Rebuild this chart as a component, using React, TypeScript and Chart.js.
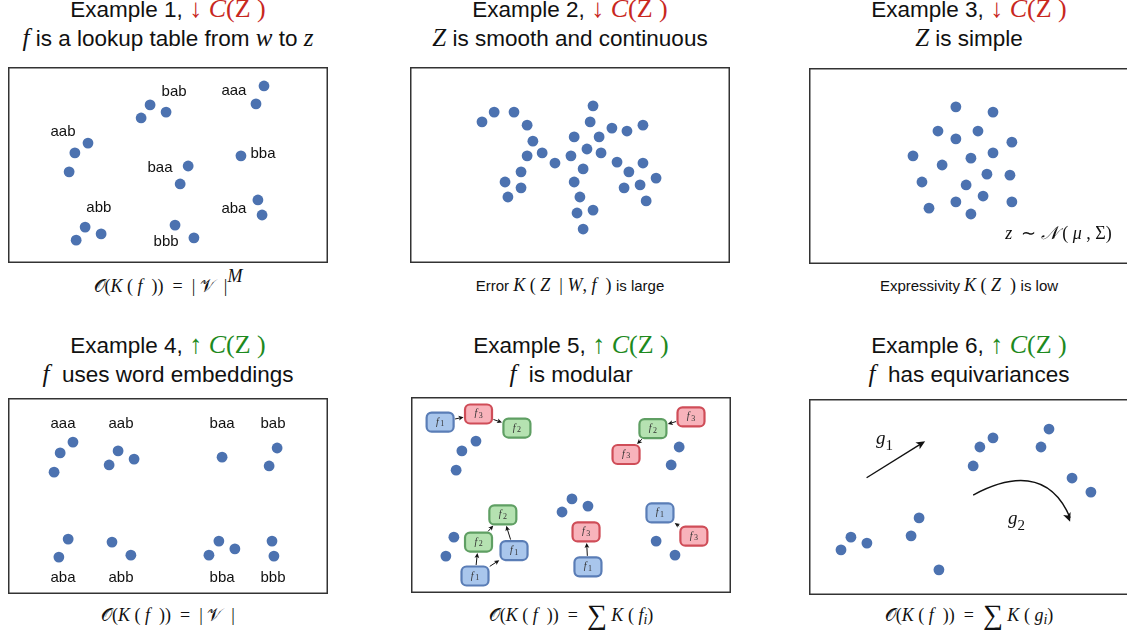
import React, { useEffect, useRef } from "react";
import { Chart, registerables } from "chart.js";
Chart.register(...registerables);

const SANS = '"Liberation Sans", Arial, Helvetica, sans-serif';
const SERIF = '"Liberation Serif", "Times New Roman", Times, serif';
const DOT = "#4C72B0";
const DOWN = "#C8281E";
const UP = "#1E8A1E";

// ---------- Panel 1: lookup table ----------
const p1X = [8.0, 7.75, 4.44, 4.94, 4.16, 2.5, 2.09, 1.91, 5.63, 5.38, 7.28, 7.81, 7.94, 2.41, 2.91, 2.13, 5.22, 5.81];
const p1Y = [5.42, 4.87, 4.84, 4.62, 4.44, 3.67, 3.37, 2.79, 2.97, 2.42, 3.28, 1.93, 1.47, 1.1, 0.89, 0.7, 1.16, 0.77];
const p1Words = ["bab", "aaa", "aab", "baa", "bba", "abb", "aba", "bbb"];
const p1WordX = [5.19, 7.06, 1.72, 4.75, 7.97, 2.84, 7.06, 4.94];
const p1WordY = [5.23, 5.26, 4.01, 2.91, 3.34, 1.68, 1.65, 0.64];

// ---------- Panel 2: smooth and continuous ----------
const p2X = [2.25, 2.63, 3.25, 3.66, 3.84, 3.66, 4.13, 4.53, 3.47, 2.97, 3.47, 3.06, 5.72, 5.63, 6.31, 6.78, 7.28, 5.13, 5.91, 5.53, 5.97, 5.03, 5.41, 6.47, 7.28, 6.84, 7.69, 5.13, 6.69, 7.19, 7.38, 5.31, 5.22, 5.72, 5.41];
const p2Y = [4.32, 4.62, 4.62, 4.22, 3.73, 3.28, 3.37, 3.06, 2.79, 2.48, 2.3, 2.02, 4.81, 4.32, 4.13, 4.04, 4.22, 3.86, 3.86, 3.49, 3.37, 3.28, 2.88, 3.09, 3.06, 2.79, 2.6, 2.48, 2.3, 2.39, 1.9, 2.02, 1.53, 1.62, 1.04];

// ---------- Panel 3: simple (gaussian) ----------
const p3X = [4.59, 5.75, 4.03, 4.59, 5.28, 6.34, 3.25, 4.16, 5.06, 5.75, 5.56, 6.28, 3.53, 4.91, 5.44, 4.59, 6.34, 3.75, 5.06];
const p3Y = [4.81, 4.65, 4.07, 3.83, 4.07, 3.73, 3.31, 3.03, 3.24, 3.4, 2.75, 2.72, 2.51, 2.42, 2.08, 1.9, 1.9, 1.71, 1.53];
const p3NoteX = 6.13;
const p3NoteY = 0.77;

// ---------- Panel 4: word embeddings ----------
const p4X = [2.03, 1.63, 1.44, 3.44, 3.94, 3.16, 6.69, 8.41, 8.16, 1.88, 1.59, 3.25, 3.84, 6.59, 7.09, 6.28, 8.25, 8.31];
const p4Y = [4.65, 4.32, 3.73, 4.38, 4.13, 3.95, 4.19, 4.47, 3.92, 1.68, 1.13, 1.59, 1.19, 1.62, 1.38, 1.19, 1.62, 1.16];
const p4Words = ["aaa", "aab", "baa", "bab", "aba", "abb", "bba", "bbb"];
const p4WordX = [1.72, 3.53, 6.69, 8.28, 1.72, 3.53, 6.69, 8.28];
const p4WordY = [5.2, 5.2, 5.2, 5.2, 0.49, 0.49, 0.49, 0.49];

// ---------- Panel 5: modular ----------
const p5X = [2.03, 1.59, 1.41, 8.38, 8.13, 5.03, 5.53, 4.72, 1.34, 1.09, 7.66, 8.25];
const p5Y = [4.65, 4.35, 3.76, 4.47, 3.92, 2.88, 2.66, 2.48, 1.71, 1.13, 1.59, 1.16];
const p5ModX = [0.91, 2.11, 3.31, 8.75, 7.56, 6.72, 2.87, 2.11, 3.22, 2.0, 5.47, 5.53, 7.78, 8.84];
const p5ModY = [5.23, 5.48, 5.05, 5.39, 5.03, 4.24, 2.39, 1.56, 1.3, 0.52, 1.87, 0.8, 2.45, 1.74];
const p5ModKind = [1, 3, 2, 3, 2, 3, 2, 2, 1, 1, 3, 1, 1, 3];
const p5EdgeFrom = [0, 1, 3, 4, 9, 9, 7, 8, 11, 13];
const p5EdgeTo = [1, 2, 4, 5, 7, 8, 6, 6, 10, 12];

// ---------- Panel 6: equivariances ----------
const p6X = [7.5, 5.75, 5.34, 7.25, 5.13, 8.22, 8.81, 3.44, 3.19, 1.31, 1.81, 1.0, 4.06];
const p6Y = [5.08, 4.81, 4.53, 4.53, 3.95, 3.58, 3.15, 2.36, 1.81, 1.77, 1.59, 1.38, 0.77];
const g1From = [1.8, 3.59];
const g1To = [3.63, 4.71];
const g2Path = [[5.13, 3.06], [6.28, 3.67], [7.53, 3.83], [8.16, 2.24]];
const g1Label = [2.09, 4.62];
const g2Label = [6.22, 2.17];

const X_MAX = 10;
const Y_MAX = 6;
const BOX_W = 320;
const BOX_H = 196;

type Ctx = CanvasRenderingContext2D;
type P = (v: number) => number;

function arrowHead(ctx: Ctx, fx: number, fy: number, tx: number, ty: number, len: number, half: number) {
  const a = Math.atan2(ty - fy, tx - fx);
  const c = Math.cos(a), s = Math.sin(a);
  const bx = tx - len * c, by = ty - len * s;
  const nx = -s * half, ny = c * half;
  ctx.beginPath();
  ctx.moveTo(tx, ty);
  ctx.lineTo(bx + nx, by + ny);
  ctx.lineTo(tx - len * 0.75 * c, ty - len * 0.75 * s);
  ctx.lineTo(bx - nx, by - ny);
  ctx.closePath();
  ctx.fill();
}

function drawWords(words: string[], wx: number[], wy: number[]) {
  return (ctx: Ctx, px: P, py: P) => {
    ctx.font = `15px ${SANS}`;
    ctx.fillStyle = "#111";
    ctx.textAlign = "center";
    ctx.textBaseline = "middle";
    words.forEach((w, i) => ctx.fillText(w, px(wx[i]), py(wy[i])));
  };
}

function drawPieces(ctx: Ctx, x: number, y: number, pieces: [string, string, number][]) {
  let cx = x;
  ctx.textAlign = "left";
  ctx.textBaseline = "alphabetic";
  for (const [text, font, dy] of pieces) {
    ctx.font = font;
    ctx.fillText(text, cx, y + dy);
    cx += ctx.measureText(text).width;
  }
}

const drawP3 = (ctx: Ctx, px: P, py: P) => {
  ctx.fillStyle = "#111";
  const it = `italic 18px ${SERIF}`;
  const rm = `18px ${SERIF}`;
  drawPieces(ctx, px(p3NoteX), py(p3NoteY), [
    ["z", it, 0],
    ["  \u223C ", rm, 0],
    ["\uD835\uDCA9", it, 0],
    [" ( ", rm, 0],
    ["\u03BC", it, 0],
    [" , \u03A3)", rm, 0],
  ]);
};

const MOD_FILL: Record<number, string> = { 1: "#A9C6EC", 2: "#B5E2B1", 3: "#F8B3BB" };
const MOD_STROKE: Record<number, string> = { 1: "#5A7DB6", 2: "#5F9F63", 3: "#CF4D58" };
const MOD_HW = 13.5;
const MOD_HH = 9.5;

function clipToBox(cx: number, cy: number, dx: number, dy: number) {
  const tx = Math.abs(dx) > 1e-6 ? MOD_HW / Math.abs(dx) : Infinity;
  const ty = Math.abs(dy) > 1e-6 ? MOD_HH / Math.abs(dy) : Infinity;
  const t = Math.min(tx, ty);
  return [cx + dx * t, cy + dy * t];
}

const drawP5 = (ctx: Ctx, px: P, py: P) => {
  ctx.strokeStyle = "#111";
  ctx.fillStyle = "#111";
  ctx.lineWidth = 1;
  p5EdgeFrom.forEach((f, i) => {
    const t = p5EdgeTo[i];
    const ax = px(p5ModX[f]), ay = py(p5ModY[f]);
    const bx = px(p5ModX[t]), by = py(p5ModY[t]);
    const d = Math.hypot(bx - ax, by - ay);
    const ux = (bx - ax) / d, uy = (by - ay) / d;
    const [sx, sy] = clipToBox(ax, ay, ux, uy);
    const [ex, ey] = clipToBox(bx, by, -ux, -uy);
    const s0x = sx + ux * 1.5, s0y = sy + uy * 1.5;
    const e0x = ex - ux * 1.5, e0y = ey - uy * 1.5;
    ctx.beginPath();
    ctx.moveTo(s0x, s0y);
    ctx.lineTo(e0x - ux * 3, e0y - uy * 3);
    ctx.stroke();
    arrowHead(ctx, s0x, s0y, e0x, e0y, 5, 2.4);
  });
  p5ModX.forEach((mx, i) => {
    const k = p5ModKind[i];
    const cx = px(mx), cy = py(p5ModY[i]);
    ctx.beginPath();
    ctx.roundRect(cx - MOD_HW, cy - MOD_HH, MOD_HW * 2, MOD_HH * 2, 5);
    ctx.fillStyle = MOD_FILL[k];
    ctx.fill();
    ctx.lineWidth = 2.2;
    ctx.strokeStyle = MOD_STROKE[k];
    ctx.stroke();
    ctx.fillStyle = "#333";
    ctx.font = `italic 10px ${SERIF}`;
    const wf = ctx.measureText("f").width;
    ctx.font = `8px ${SERIF}`;
    const ws = ctx.measureText(String(k)).width;
    const start = cx - (wf + ws + 1.5) / 2;
    ctx.textAlign = "left";
    ctx.textBaseline = "alphabetic";
    ctx.font = `italic 10px ${SERIF}`;
    ctx.fillText("f", start, cy + 2.5);
    ctx.font = `8px ${SERIF}`;
    ctx.fillText(String(k), start + wf + 1.5, cy + 4);
  });
};

const drawP6 = (ctx: Ctx, px: P, py: P) => {
  ctx.strokeStyle = "#111";
  ctx.fillStyle = "#111";
  ctx.lineWidth = 1.4;
  const ax = px(g1From[0]), ay = py(g1From[1]);
  const bx = px(g1To[0]), by = py(g1To[1]);
  const d = Math.hypot(bx - ax, by - ay);
  ctx.beginPath();
  ctx.moveTo(ax, ay);
  ctx.lineTo(bx - ((bx - ax) / d) * 5, by - ((by - ay) / d) * 5);
  ctx.stroke();
  arrowHead(ctx, ax, ay, bx, by, 9, 4);
  const pts = g2Path.map(([x, y]) => [px(x), py(y)]);
  ctx.beginPath();
  ctx.moveTo(pts[0][0], pts[0][1]);
  ctx.bezierCurveTo(pts[1][0], pts[1][1], pts[2][0], pts[2][1], pts[3][0], pts[3][1] - 4);
  ctx.stroke();
  arrowHead(ctx, pts[2][0], pts[2][1], pts[3][0], pts[3][1], 9, 4);
  const it = `italic 19px ${SERIF}`;
  const rm = `15px ${SERIF}`;
  drawPieces(ctx, px(g1Label[0]), py(g1Label[1]), [["g", it, 0], ["1", rm, 6]]);
  drawPieces(ctx, px(g2Label[0]), py(g2Label[1]), [["g", it, 0], ["2", rm, 6]]);
};

type Draw = ((ctx: Ctx, px: P, py: P) => void) | null;

function buildChart(canvas: HTMLCanvasElement, xs: number[], ys: number[], draw: Draw) {
  const data = xs.map((x, i) => ({ x, y: ys[i] }));
  return new Chart(canvas, {
    type: "scatter",
    data: {
      datasets: [
        {
          data,
          pointRadius: 5.4,
          pointHoverRadius: 5.4,
          backgroundColor: DOT,
          borderColor: DOT,
          pointBorderWidth: 0,
          borderWidth: 0,
        },
      ],
    },
    options: {
      animation: false,
      responsive: false,
      maintainAspectRatio: false,
      events: [],
      layout: { padding: 0, autoPadding: false },
      scales: {
        x: { type: "linear", min: 0, max: X_MAX, display: false },
        y: { type: "linear", min: 0, max: Y_MAX, display: false },
      },
      plugins: { legend: { display: false }, tooltip: { enabled: false } },
    },
    plugins: [
      {
        id: "panelDecor",
        afterDatasetsDraw(chart: any) {
          if (!draw) return;
          const ctx = chart.ctx as Ctx;
          const px = (v: number) => chart.scales.x.getPixelForValue(v);
          const py = (v: number) => chart.scales.y.getPixelForValue(v);
          ctx.save();
          draw(ctx, px, py);
          ctx.restore();
        },
        afterDraw(chart: any) {
          const ctx = chart.ctx as Ctx;
          ctx.save();
          ctx.strokeStyle = "#333";
          ctx.lineWidth = 1.5;
          ctx.strokeRect(0.75, 0.75, chart.width - 1.5, chart.height - 1.5);
          ctx.restore();
        },
      },
    ],
  } as any);
}

const I = ({ children, size }: { children: any; size?: number }) => (
  <span style={{ fontFamily: SERIF, fontStyle: "italic", fontSize: size, lineHeight: 0 }}>{children}</span>
);
const R = ({ children, size }: { children: any; size?: number }) => (
  <span style={{ fontFamily: SERIF, fontStyle: "normal", fontSize: size, lineHeight: 0, whiteSpace: "pre", color: "#111" }}>{children}</span>
);
const Bar = () => (
  <span style={{ fontFamily: SERIF, fontStyle: "normal", color: "#111", lineHeight: 0 }}>|</span>
);
const Vcal = () => (
  <span style={{ lineHeight: 0, color: "#111" }}>{"\uD835\uDCB1"}</span>
);

const CAP = 18;
const OK = (
  <>
    {"\uD835\uDCAA("}<I>K</I>{" ( "}<I>f</I>{"  ))  =  "}
  </>
);
const SUM = (
  <span style={{ fontSize: 28, lineHeight: 0, verticalAlign: "-3px" }}>{"\u2211"}</span>
);

const panels = [
  {
    left: 8, top: 67, up: false, n: 1,
    line2: (<><I size={25}>f</I> is a lookup table from <I size={25}>w</I> to <I size={25}>z</I></>),
    caption: (<R size={CAP}>{OK}<Bar />{" "}<Vcal />{"  "}<Bar /><span style={{ fontStyle: "italic", fontSize: 18, verticalAlign: "10px", lineHeight: 0 }}>M</span></R>),
    xs: p1X, ys: p1Y, draw: drawWords(p1Words, p1WordX, p1WordY),
  },
  {
    left: 410, top: 67, up: false, n: 2,
    line2: (<><I size={25}>Z</I> is smooth and continuous</>),
    caption: (<>Error <R size={CAP}><I>K</I>{" ( "}<I>Z</I>{"  | "}<I>W</I>{", "}<I>f</I>{"  ) "}</R>is large</>),
    xs: p2X, ys: p2Y, draw: null,
  },
  {
    left: 809, top: 68, up: false, n: 3,
    line2: (<><I size={25}>Z</I> is simple</>),
    caption: (<>Expressivity <R size={CAP}><I>K</I>{" ( "}<I>Z</I>{"  ) "}</R>is low</>),
    xs: p3X, ys: p3Y, draw: drawP3,
  },
  {
    left: 8, top: 398, up: true, n: 4,
    line2: (<><I size={25}>f</I>&nbsp; uses word embeddings</>),
    caption: (<R size={CAP}>{OK}<Bar />{" "}<Vcal />{"  "}<Bar /></R>),
    xs: p4X, ys: p4Y, draw: drawWords(p4Words, p4WordX, p4WordY),
  },
  {
    left: 411, top: 397, up: true, n: 5,
    line2: (<><I size={25}>f</I>&nbsp; is modular</>),
    caption: (<R size={CAP}>{OK}{SUM}{" "}<I>K</I>{" ( "}<I>f</I><span style={{ fontStyle: "italic", fontSize: 14, verticalAlign: "-3px", lineHeight: 0 }}>i</span>{")"}</R>),
    xs: p5X, ys: p5Y, draw: drawP5,
  },
  {
    left: 809, top: 399, up: true, n: 6,
    line2: (<><I size={25}>f</I>&nbsp; has equivariances</>),
    caption: (<R size={CAP}>{OK}{SUM}{" "}<I>K</I>{" ( "}<I>g</I><span style={{ fontStyle: "italic", fontSize: 14, verticalAlign: "-3px", lineHeight: 0 }}>i</span>{")"}</R>),
    xs: p6X, ys: p6Y, draw: drawP6,
  },
];

export default function App() {
  const refs = useRef<(HTMLCanvasElement | null)[]>([]);
  useEffect(() => {
    const charts = panels.map((p, i) => buildChart(refs.current[i] as HTMLCanvasElement, p.xs, p.ys, p.draw));
    return () => charts.forEach((c) => c.destroy());
  }, []);
  return (
    <div
      style={{
        position: "absolute", left: 0, top: 0, width: 1127, height: 636, overflow: "hidden",
        background: "#fff", fontFamily: SANS, color: "#111",
      }}
    >
      {panels.map((p, i) => {
        const cx = p.left + BOX_W / 2;
        const row2 = p.n > 3;
        return (
          <React.Fragment key={i}>
            <div
              style={{
                position: "absolute", left: cx - 220, width: 440, top: row2 ? 331 : -4.6,
                textAlign: "center", fontSize: 22.5, lineHeight: "29px", whiteSpace: "nowrap",
              }}
            >
              <div>
                Example {p.n},{" "}
                <span style={{ color: p.up ? UP : DOWN, fontFamily: SERIF, fontSize: 26, lineHeight: 0 }}>
                  {p.up ? "\u2191" : "\u2193"} <i>C</i>(Z )
                </span>
              </div>
              <div>{p.line2}</div>
            </div>
            <canvas
              ref={(el) => { refs.current[i] = el; }}
              width={BOX_W}
              height={BOX_H}
              style={{ position: "absolute", left: p.left, top: p.top, width: BOX_W, height: BOX_H }}
            />
            <div
              style={{
                position: "absolute", left: cx - 220, width: 440, top: row2 ? 606.3 : 275.8,
                textAlign: "center", fontSize: 15, lineHeight: "20px", whiteSpace: "nowrap",
              }}
            >
              {p.caption}
            </div>
          </React.Fragment>
        );
      })}
    </div>
  );
}
